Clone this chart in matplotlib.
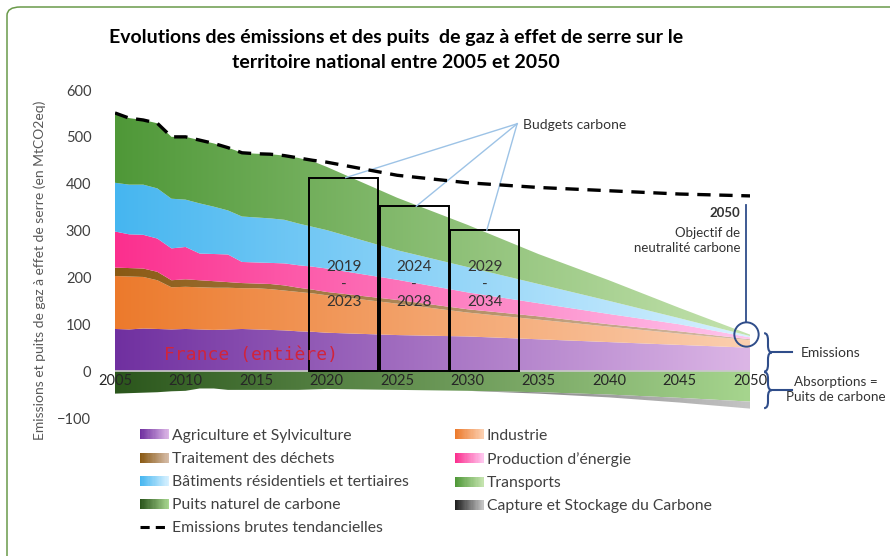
import numpy as np
import matplotlib
matplotlib.use("Agg")
import matplotlib.pyplot as plt
from matplotlib.colors import LinearSegmentedColormap
from matplotlib.legend_handler import HandlerBase
from matplotlib.lines import Line2D
from matplotlib.patches import FancyBboxPatch, PathPatch, Rectangle
from matplotlib.path import Path

plt.rcParams["font.family"] = ["Lato", "DejaVu Sans"]

# ---- data (MtCO2eq) ----
years = [2005, 2006, 2007, 2008, 2009, 2010, 2011, 2012, 2013, 2014, 2015,
         2016, 2017, 2018, 2019, 2020, 2025, 2030, 2035, 2040, 2045, 2050]
agriculture = [90, 89, 91, 90, 89, 90, 89, 88, 89, 90, 89,
               88, 87, 85, 84, 82, 77, 74, 68, 62, 56, 50]
industrie = [113, 113, 110, 104, 90, 90, 90, 90, 89, 87, 88,
             87, 85, 84, 82, 80, 67, 51, 42, 33, 24, 16]
dechets = [18, 18, 18, 18, 15, 16, 15, 14, 12, 11, 10,
           11, 11, 9, 8, 7, 8, 7, 7, 5, 5, 2]
energie = [77, 72, 72, 71, 68, 69, 57, 58, 59, 45, 45,
           45, 47, 48, 49, 50, 43, 36, 28, 22, 15, 4]
batiments = [104, 106, 107, 107, 106, 101, 107, 101, 94, 97, 96,
             95, 93, 89, 85, 82, 63, 54, 41, 28, 13, 3]
transports = [149, 142, 138, 139, 132, 134, 135, 135, 134, 136, 136,
              137, 137, 140, 140, 135, 112, 90, 64, 44, 22, 3]
puits_naturel = [-48, -47, -46, -45, -43, -42, -37, -37, -40, -40, -40,
                 -40, -40, -40, -39, -38, -40, -42, -45, -50, -57, -65]
capture_stockage = [0, 0, 0, 0, 0, 0, 0, 0, 0, 0, 0,
                    0, 0, 0, 0, 0, 0, 0, -3, -6, -10, -15]
emissions_tendancielles = [551, 540, 536, 529, 500, 500, 493, 486, 477, 466, 464,
                           463, 460, 455, 450, 446, 418, 402, 392, 385, 378, 374]

budget_labels = ["2019\n-\n2023", "2024\n-\n2028", "2029\n-\n2034"]
budget_starts = [2019, 2024, 2029]
budget_values = [413, 352, 301]

x_ticks = [2005, 2010, 2015, 2020, 2025, 2030, 2035, 2040, 2045, 2050]
y_ticks = [-100, 0, 100, 200, 300, 400, 500, 600]

# sector name, values, gradient (left dark -> right light)
emission_layers = [
    ("Agriculture et Sylviculture", agriculture, ["#7030a0", "#dcb6e6"]),
    ("Industrie", industrie, ["#ec7a2c", "#fbcfb0"]),
    ("Traitement des déchets", dechets, ["#8a5a14", "#d6bca8"]),
    ("Production d\u2019énergie", energie, ["#fb2f8e", "#ffc6ee"]),
    ("Bâtiments résidentiels et tertiaires", batiments, ["#46b6f0", "#d8f1ff"]),
    ("Transports", transports, ["#4f9838", "#c4e3ae"]),
]
sink_layers = [
    ("Puits naturel de carbone", puits_naturel, ["#2b561c", "#a6d58e"]),
    ("Capture et Stockage du Carbone", capture_stockage, ["#202020", "#c4c4c4"]),
]

W, H = 890, 556
fig = plt.figure(figsize=(W / 100, H / 100), dpi=100)
x0, x1 = 115, 750
y_top, y_bot = 90, 418
ax = fig.add_axes([x0 / W, 1 - y_bot / H, (x1 - x0) / W, (y_bot - y_top) / H])

x = np.array(years, dtype=float)


def gradient_fill(lower, upper, colors, z):
    poly = ax.fill_between(x, lower, upper, facecolor="none", edgecolor="none")
    cmap = LinearSegmentedColormap.from_list("g", colors)
    grad = np.linspace(0, 1, 256)[np.newaxis, :]
    lo, hi = float(np.min(lower)), float(np.max(upper))
    if hi - lo < 1e-9:
        return cmap
    im = ax.imshow(grad, cmap=cmap, aspect="auto", origin="lower",
                   extent=[x[0], x[-1], lo, hi], zorder=z, interpolation="bicubic")
    im.set_clip_path(poly.get_paths()[0], transform=ax.transData)
    return cmap


cmaps = {}
base = np.zeros_like(x)
for name, vals, cols in emission_layers:
    top = base + np.array(vals, dtype=float)
    cmaps[name] = gradient_fill(base, top, cols, 1)
    base = top

base = np.zeros_like(x)
for name, vals, cols in sink_layers:
    bottom = base + np.array(vals, dtype=float)
    cmaps[name] = LinearSegmentedColormap.from_list("g", cols)
    gradient_fill(bottom, base, cols, 1)
    base = bottom

ax.axhline(0, color="#c8c8c8", lw=1.2, zorder=2)

ax.plot(x, emissions_tendancielles, color="black", lw=2.4, dashes=(4, 2.6),
        zorder=4, solid_capstyle="butt")

# carbon budget boxes
origin = (2033.5, 528)
for lab, start, val in zip(budget_labels, budget_starts, budget_values):
    left = start - 0.25
    ax.add_patch(Rectangle((left, 0), 4.9, val, facecolor="none",
                           edgecolor="black", lw=1.4, zorder=3))
    ax.text(left + 2.45, 185, lab, ha="center", va="center", fontsize=11,
            color="#333333", linespacing=1.3, zorder=5)
    ax.plot([origin[0], left + 2.6], [origin[1], val], color="#9dc3e6",
            lw=1, zorder=3)
ax.text(2033.9, 526, "Budgets carbone", fontsize=10, color="#333333",
        ha="left", va="center")

ax.text(2008.5, 35, "France (entière)", fontsize=13, color="#d0243c",
        family="DejaVu Sans Mono", ha="left", va="center", zorder=6)

# 2050 carbon neutrality callout
blue = "#2f4d8a"
ax.text(2049.3, 337, "2050", fontsize=9.5, fontweight="bold", color="#333333",
        ha="right", va="center")
ax.text(2049.3, 278, "Objectif de\nneutralité carbone", fontsize=9.5,
        color="#333333", ha="right", va="center", linespacing=1.3)
ax.plot([2049.75, 2049.75], [354, 105], color=blue, lw=1.3, clip_on=False)
ax.plot([2049.7], [79], marker="o", ms=17.5, mfc="none", mec=blue, mew=1.4,
        clip_on=False)


def brace(xb, ylo, yhi, w):
    ym = (ylo + yhi) / 2
    r = (yhi - ylo) * 0.18
    verts = [(xb, yhi), (xb + w / 2, yhi), (xb + w / 2, yhi - r),
             (xb + w / 2, ym + r), (xb + w / 2, ym), (xb + w, ym),
             (xb + w / 2, ym), (xb + w / 2, ym - r),
             (xb + w / 2, ylo + r), (xb + w / 2, ylo), (xb, ylo)]
    codes = [Path.MOVETO, Path.CURVE3, Path.CURVE3, Path.LINETO,
             Path.CURVE3, Path.CURVE3, Path.CURVE3, Path.CURVE3,
             Path.LINETO, Path.CURVE3, Path.CURVE3]
    ax.add_patch(PathPatch(Path(verts, codes), facecolor="none", edgecolor=blue,
                           lw=1.5, clip_on=False))
    ax.plot([xb + w, 2052.95], [ym, ym], color=blue, lw=1.5, clip_on=False)


brace(2051.0, -1, 81, 0.55)
brace(2051.0, -79, -2, 0.55)
ax.text(2053.6, 38, "Emissions", fontsize=10, color="#333333", ha="left",
        va="center", clip_on=False)
ax.text(2056.1, -40, "Absorptions =\nPuits de carbone", fontsize=9.7,
        color="#333333", ha="center", va="center", linespacing=1.3,
        clip_on=False)

# axes styling
ax.set_xlim(2005, 2050)
ax.set_ylim(-100, 600)
ax.set_xticks(x_ticks)
ax.set_yticks(y_ticks)
for s in ax.spines.values():
    s.set_visible(False)
ax.spines["bottom"].set_position(("data", 0))
ax.tick_params(axis="x", length=0, pad=2, labelsize=10.5, labelcolor="#262626")
ax.tick_params(axis="y", length=0, pad=17, labelsize=10.5, labelcolor="#404040")
ax.set_axisbelow(False)
ax.xaxis.set_zorder(7)

fig.text(40 / W, 1 - 270 / H, "Emissions et puits de gaz à effet de serre (en MtCO2eq)",
         rotation=90, ha="center", va="center", fontsize=10, color="#595959")

fig.text(396 / W, 1 - 38 / H,
         "Evolutions des émissions et des puits  de gaz à effet de serre sur le",
         ha="center", va="center", fontsize=14, fontweight="bold")
fig.text(396 / W, 1 - 62 / H, "territoire national entre 2005 et 2050",
         ha="center", va="center", fontsize=14, fontweight="bold")


# legend with gradient swatches
class GradientHandler(HandlerBase):
    def __init__(self, cmap, steps=24):
        super().__init__()
        self.cmap = cmap
        self.steps = steps

    def create_artists(self, legend, orig_handle, xdescent, ydescent, width,
                       height, fontsize, trans):
        h = height
        yb = -ydescent + (height - h) / 2
        arts = []
        for i in range(self.steps):
            arts.append(Rectangle((-xdescent + width * i / self.steps, yb),
                                  width / self.steps * 1.1, h,
                                  facecolor=self.cmap(i / (self.steps - 1)),
                                  edgecolor="none", transform=trans))
        return arts


names = [n for n, _, _ in emission_layers] + [n for n, _, _ in sink_layers]
proxies = {n: Rectangle((0, 0), 1, 1) for n in names}
dash_handle = Line2D([], [], color="black", lw=2.2, dashes=(3, 2))
order = ["Agriculture et Sylviculture", "Traitement des déchets",
         "Bâtiments résidentiels et tertiaires", "Puits naturel de carbone",
         None, "Industrie", "Production d\u2019énergie", "Transports",
         "Capture et Stockage du Carbone"]
handles, labels = [], []
for n in order:
    if n is None:
        handles.append(dash_handle)
        labels.append("Emissions brutes tendancielles")
    else:
        handles.append(proxies[n])
        labels.append(n)
hmap = {proxies[n]: GradientHandler(cmaps[n]) for n in names}
fig.legend(handles, labels, handler_map=hmap, ncol=2, frameon=False,
           loc="upper left", bbox_to_anchor=(140 / W, 1 - 429 / H),
           fontsize=11.3, labelcolor="#404040", handlelength=1.85,
           handleheight=0.6, handletextpad=0.2, labelspacing=0.58,
           columnspacing=2.9, borderpad=0, borderaxespad=0)

# outer frame
fig.patches.append(FancyBboxPatch((7 / W, -0.05), 1.1, 1 - 7 / H + 0.05,
                                  boxstyle="round,pad=0,rounding_size=0.015",
                                  transform=fig.transFigure, facecolor="none",
                                  edgecolor="#6a9a4a", lw=1.1))

fig.savefig("out.png", dpi=100)
